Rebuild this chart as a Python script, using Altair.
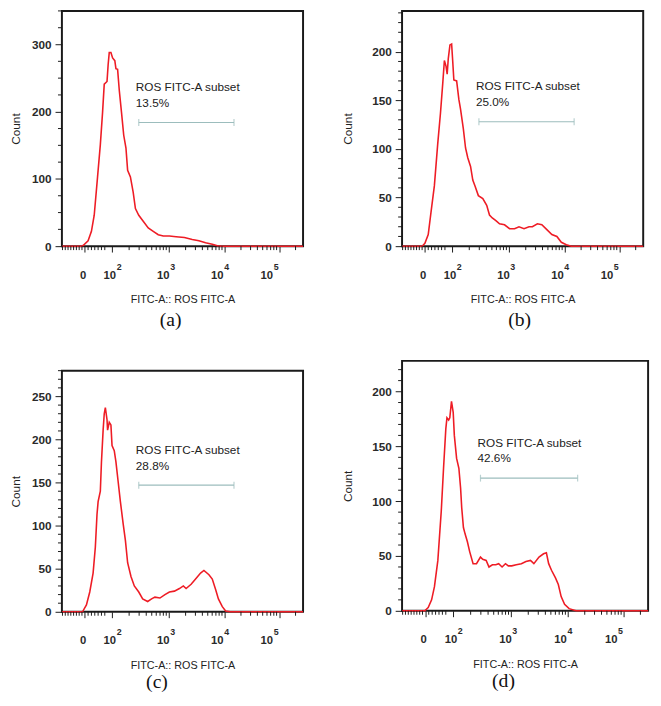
import altair as alt
import pandas as pd
import numpy as np

# ---------------- data (x in display decades: 2 = 10^2, 3 = 10^3 ...) ----------------
X_MIN, X_MAX = 1.10, 5.43
XTICK_POS = [1.51, 2.0, 3.02, 4.02, 5.0]          # major tick marks
XLABEL_POS = [1.48, 1.96, 2.92, 3.89, 4.78]       # label centres (as drawn in the figure)
XLABEL_BASE = ["0", "10", "10", "10", "10"]
XLABEL_EXP = ["", "2", "3", "4", "5"]
GATE_X = [2.48, 4.19]
GATE_TEXT = "ROS FITC-A subset"

A_X = [1.10, 1.45, 1.48, 1.57, 1.63, 1.68, 1.74, 1.79, 1.83, 1.86, 1.91, 1.93, 1.95, 1.98,
       2.01, 2.05, 2.07, 2.10, 2.13, 2.17, 2.21, 2.25, 2.28, 2.33, 2.38, 2.42, 2.48, 2.56,
       2.65, 2.74, 2.83, 2.92, 3.03, 3.15, 3.30, 3.44, 3.56, 3.68, 3.80, 3.89, 3.97, 5.43]
A_Y = [0, 0, 1, 8, 22, 46, 103, 151, 199, 241, 245, 270, 288, 288, 280, 276, 264, 263,
       232, 199, 165, 146, 113, 103, 80, 56, 46, 37, 27, 22, 17, 15, 15, 14, 13, 10, 8,
       5, 3, 0.5, 0, 0]

B_X = [1.10, 1.46, 1.51, 1.57, 1.62, 1.68, 1.74, 1.79, 1.83, 1.86, 1.89, 1.91, 1.93, 1.96,
       1.99, 2.01, 2.03, 2.08, 2.12, 2.15, 2.20, 2.24, 2.28, 2.33, 2.37, 2.41, 2.47, 2.55,
       2.62, 2.67, 2.72, 2.79, 2.85, 2.94, 3.03, 3.12, 3.20, 3.29, 3.38, 3.44, 3.53, 3.61,
       3.70, 3.79, 3.88, 3.96, 4.05, 4.14, 5.43]
B_Y = [0, 0, 3, 12, 35, 62, 105, 137, 167, 191, 185, 177, 193, 207, 208, 190, 171, 170,
       151, 141, 121, 101, 91, 82, 68, 62, 52, 49, 42, 32, 29, 26, 23, 22, 18, 18, 20, 18,
       20, 20, 23, 22, 17, 12, 10, 4, 1.5, 0, 0]

C_X = [1.10, 1.47, 1.54, 1.60, 1.66, 1.70, 1.73, 1.75, 1.79, 1.81, 1.84, 1.86, 1.88, 1.91,
       1.92, 1.95, 1.98, 2.00, 2.04, 2.07, 2.11, 2.15, 2.20, 2.24, 2.28, 2.34, 2.40, 2.48,
       2.55, 2.64, 2.71, 2.77, 2.86, 2.95, 3.03, 3.12, 3.21, 3.28, 3.33, 3.42, 3.50, 3.59,
       3.65, 3.74, 3.80, 3.86, 3.91, 3.98, 4.04, 4.12, 5.43]
C_Y = [0, 0, 8, 23, 45, 75, 113, 128, 140, 174, 211, 230, 237, 223, 211, 220, 217, 193,
       187, 174, 151, 128, 102, 83, 57, 41, 30, 23, 15, 12, 15, 17, 16, 20, 23, 24, 27, 30,
       27, 32, 38, 45, 48, 43, 38, 26, 15, 6, 1, 0, 0]

D_X = [1.10, 1.50, 1.56, 1.62, 1.67, 1.73, 1.79, 1.83, 1.87, 1.89, 1.92, 1.94, 1.97, 2.00,
       2.02, 2.06, 2.10, 2.13, 2.15, 2.18, 2.21, 2.25, 2.29, 2.35, 2.41, 2.48, 2.52, 2.58,
       2.63, 2.69, 2.75, 2.80, 2.86, 2.92, 2.97, 3.03, 3.11, 3.20, 3.28, 3.36, 3.42, 3.51,
       3.59, 3.64, 3.68, 3.73, 3.80, 3.85, 3.90, 3.96, 4.04, 4.16, 5.43]
D_Y = [0, 0, 3, 10, 22, 46, 91, 130, 166, 176, 174, 176, 191, 181, 160, 139, 130, 112, 94,
       76, 70, 63, 54, 43, 43, 49, 47, 46, 40, 42, 42, 43, 40, 43, 41, 41, 42, 43, 45, 46,
       43, 49, 52, 53, 43, 37, 30, 24, 13, 6, 2, 0, 0]

Y_MAX = [350, 242, 280, 228]
Y_MAJOR = [100, 50, 50, 50]
Y_MINOR = [25, 10, 10, 10]
GATE_Y = [184, 128, 147, 121]
PCTS = ["13.5%", "25.0%", "28.8%", "42.6%"]
CAPTIONS = ["(a)", "(b)", "(c)", "(d)"]

# ---------------- styling ----------------
RED = "#ee1c25"
GATE_COLOR = "#9cbdbd"
INK = "#1a1a1a"
LABEL_INK = "#2a2a2a"
SANS = "Liberation Sans"
SERIF = "Liberation Serif"


def x_minor_ticks():
    ticks = []
    zero = XTICK_POS[0]
    ticks += [zero + 0.06 * i for i in range(1, 7)]
    ticks += [zero - 0.05 * i for i in range(1, 9)]
    for i in range(1, len(XTICK_POS)):
        start = XTICK_POS[i]
        span = XTICK_POS[i + 1] - start if i + 1 < len(XTICK_POS) else 0.98
        for m in range(2, 10):
            ticks.append(start + np.log10(m) * span)
    return [t for t in ticks if X_MIN < t < X_MAX]


XMINOR = x_minor_ticks()
XLABELS = pd.DataFrame({"x": XLABEL_POS, "base": XLABEL_BASE, "exp": XLABEL_EXP})


def panel(xs_, ys_, idx, w, h, ytitle_pad, cap_dx, cap_offset):
    ymax = Y_MAX[idx]
    xs = alt.Scale(domain=[X_MIN, X_MAX], nice=False, zero=False)
    ys = alt.Scale(domain=[0, ymax], nice=False, zero=True)
    majors = list(range(0, ymax + 1, Y_MAJOR[idx]))
    minors = [v for v in range(0, ymax + 1, Y_MINOR[idx]) if v not in majors]

    xaxis = alt.Axis(values=XTICK_POS, labels=False, title="FITC-A:: ROS FITC-A",
                     tickSize=6, titlePadding=42, grid=False, domain=False,
                     titleFontSize=11)
    yaxis = alt.Axis(values=majors, title="Count", tickSize=7, labelPadding=4,
                     titlePadding=ytitle_pad, grid=False, domain=False, labelFontSize=12,
                     titleFontSize=12, labelFlush=False, labelOverlap=False,
                     labelFontWeight="bold")

    def X(field="x"):
        return alt.X(f"{field}:Q", scale=xs, axis=xaxis)

    def Y(field="y"):
        return alt.Y(f"{field}:Q", scale=ys, axis=yaxis)

    df = pd.DataFrame({"x": xs_, "y": ys_})
    line = alt.Chart(df).mark_line(color=RED, strokeWidth=1.6).encode(x=X(), y=Y())
    xmin_layer = alt.Chart(pd.DataFrame({"x": XMINOR})).mark_rule(color=INK, strokeWidth=1).encode(
        x=X(), y=alt.value(h), y2=alt.value(h + 4))
    ymin_layer = alt.Chart(pd.DataFrame({"y": minors})).mark_rule(color=INK, strokeWidth=1).encode(
        y=Y(), x=alt.value(0), x2=alt.value(-4))

    # x tick labels: "10" with a raised exponent
    xl_base = alt.Chart(XLABELS).mark_text(align="center", baseline="alphabetic", font=SANS,
                                           fontSize=11.5, fontWeight="bold", color=LABEL_INK).encode(
        x=X(), y=alt.value(h + 33), text="base:N")
    xl_exp = alt.Chart(XLABELS).mark_text(align="left", baseline="alphabetic", dx=7, font=SANS,
                                          fontSize=9, fontWeight="bold", color=LABEL_INK).encode(
        x=X(), y=alt.value(h + 24), text="exp:N")

    gy = GATE_Y[idx]
    gate_df = pd.DataFrame({"x": [GATE_X[0]], "x2": [GATE_X[1]], "y": [gy]})
    gate = alt.Chart(gate_df).mark_rule(color=GATE_COLOR, strokeWidth=1.2).encode(
        x=X(), x2="x2:Q", y=Y())
    caps = alt.Chart(pd.DataFrame({"x": GATE_X, "y": [gy, gy]})).mark_tick(
        orient="vertical", size=7, thickness=1.2, color=GATE_COLOR).encode(x=X(), y=Y())
    tdf = pd.DataFrame({"x": [GATE_X[0]], "y": [gy], "t1": [GATE_TEXT], "t2": [PCTS[idx]]})
    t1 = alt.Chart(tdf).mark_text(align="left", baseline="alphabetic", dx=-3, dy=-32,
                                  font=SANS, fontSize=12, color="#222").encode(
        x=X(), y=Y(), text="t1:N")
    t2 = alt.Chart(tdf).mark_text(align="left", baseline="alphabetic", dx=-3, dy=-16,
                                  font=SANS, fontSize=12, color="#222").encode(
        x=X(), y=Y(), text="t2:N")

    return alt.layer(line, xmin_layer, ymin_layer, xl_base, xl_exp, gate, caps, t1, t2).properties(
        width=w, height=h,
        title=alt.TitleParams(CAPTIONS[idx], orient="bottom", font=SERIF, fontSize=20,
                              fontWeight="normal", color="#111", dx=cap_dx, offset=cap_offset,
                              frame="group", anchor="middle"),
    )


pa = panel(A_X, A_Y, 0, 246, 240, 9, -12, 6)
pb = panel(B_X, B_Y, 1, 246, 240, 18, -3, 6)
pc = panel(C_X, C_Y, 2, 246, 246, 9, -26, 2)
pd_ = panel(D_X, D_Y, 3, 251, 255, 18, -22, 2)

left = alt.vconcat(pa, pc, spacing=38)
right = alt.vconcat(pb, pd_, spacing=29)

chart = alt.hconcat(left, right, spacing=32).properties(
    padding={"left": 0, "top": -6, "right": 0, "bottom": 0},
    background="white",
).configure_view(stroke=INK, strokeWidth=2).configure_axis(
    labelFont=SANS, titleFont=SANS, labelColor=LABEL_INK, titleColor="#222",
    tickColor=INK, tickWidth=1, titleFontWeight="normal",
)

chart.save("out.html", embed_options={"renderer": "svg", "actions": False})
